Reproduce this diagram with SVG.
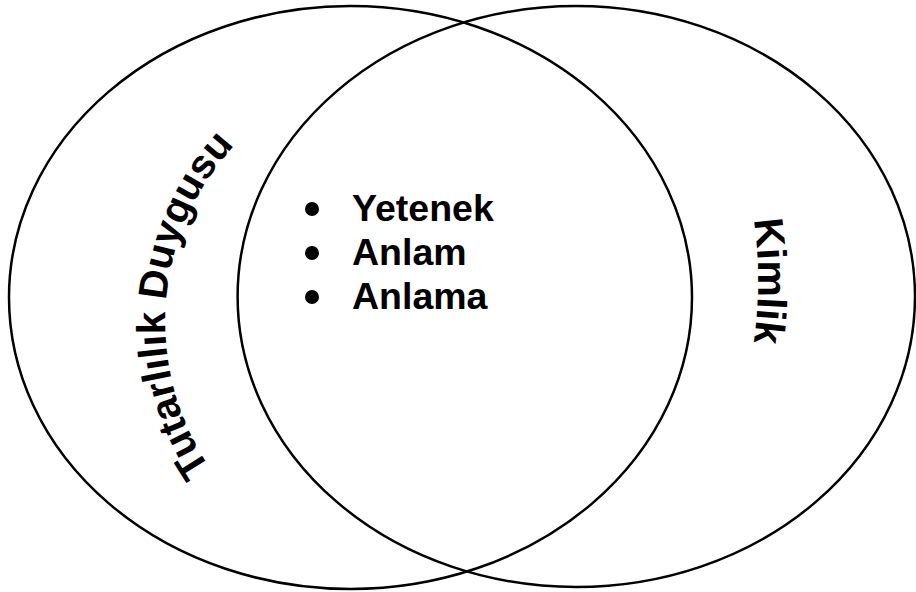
<svg xmlns="http://www.w3.org/2000/svg" width="916" height="592" viewBox="0 0 916 592">
  <style>
    .ring { fill: none; stroke: #000; stroke-width: 2.5; }
    .lbl { font-family: "Liberation Sans", Arial, sans-serif; font-weight: bold; fill: #000; }
    .dot { fill: #000; }
  </style>
  <defs>
    <!-- baseline arcs for the curved set labels -->
    <path id="arcLeft" d="M 360.8 573.9 A 260 260 0 0 1 399.2 63.3"/>
    <path id="arcRight" d="M 699.05 61 A 440 440 0 0 1 699.05 501"/>
  </defs>

  <rect width="916" height="592" fill="#fff"/>

  <g id="set-left">
    <ellipse class="ring" cx="350.5" cy="297.5" rx="341.5" ry="291.5"/>
    <text class="lbl" font-size="40.5">
      <textPath href="#arcLeft" startOffset="50%" text-anchor="middle">Tutarlılık Duygusu</textPath>
    </text>
  </g>

  <g id="set-right">
    <ellipse class="ring" cx="576.3" cy="296.5" rx="338.7" ry="290.5"/>
    <text class="lbl" font-size="41">
      <textPath href="#arcRight" startOffset="50%" text-anchor="middle">Kimlik</textPath>
    </text>
  </g>

  <g id="overlap">
    <circle class="dot" cx="312" cy="209" r="7"/>
    <circle class="dot" cx="312" cy="253" r="7"/>
    <circle class="dot" cx="312" cy="297" r="7"/>
    <text class="lbl" font-size="37.5" x="352" y="221">Yetenek</text>
    <text class="lbl" font-size="37.5" x="352" y="265">Anlam</text>
    <text class="lbl" font-size="37.5" x="352" y="309">Anlama</text>
  </g>

  <g id="connectors"/>
</svg>
